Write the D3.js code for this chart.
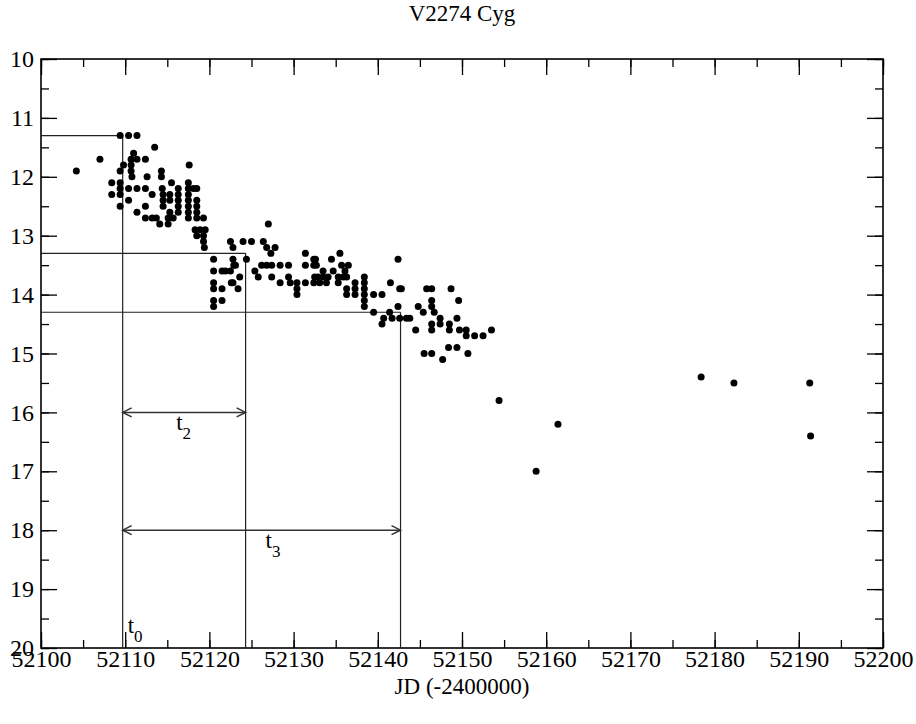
<!DOCTYPE html>
<html>
<head>
<meta charset="utf-8">
<script src="https://cdn.jsdelivr.net/npm/d3@7"></script>
<style>
  html, body { margin: 0; padding: 0; background: #fff; }
  svg text, svg tspan { font-family: "Liberation Serif", "Times New Roman", Times, "Nimbus Roman", "DejaVu Serif", serif !important; fill: #000; }
</style>
</head>
<body>
<svg id="chart" width="916" height="724"></svg>
<script>
// ---- data ----
const title = "V2274 Cyg";
const xLabel = "JD (-2400000)";
const xTicks = [52100, 52110, 52120, 52130, 52140, 52150, 52160, 52170, 52180, 52190, 52200];
const yTicks = [10, 11, 12, 13, 14, 15, 16, 17, 18, 19, 20];

const jd = [
  52109.4, 52110.4, 52111.4, 52113.5, 52111.0, 52107.0, 52110.7, 52111.4, 52112.4, 52109.8,
  52110.7, 52117.6, 52104.2, 52109.4, 52110.7, 52114.3, 52110.8, 52112.6, 52114.3, 52108.4,
  52109.4, 52115.5, 52117.5, 52109.4, 52110.4, 52111.4, 52112.4, 52114.4, 52116.3, 52117.5,
  52118.1, 52118.5, 52108.4, 52109.4, 52113.2, 52114.5, 52115.3, 52116.3, 52117.5, 52110.4,
  52114.5, 52115.3, 52116.3, 52117.5, 52118.5, 52109.4, 52112.4, 52114.5, 52116.3, 52117.5,
  52118.5, 52111.4, 52115.3, 52116.3, 52117.5, 52118.5, 52112.4, 52113.2, 52113.7, 52115.1,
  52115.7, 52117.5, 52118.5, 52119.3, 52114.1, 52115.1, 52118.3, 52118.9, 52119.5, 52118.5,
  52119.3, 52119.3, 52119.4,
  52127.0, 52122.5, 52124.0, 52125.0, 52126.4, 52122.8, 52126.8, 52127.8, 52127.3, 52131.4,
  52135.5, 52132.4, 52132.6, 52120.5, 52122.8, 52124.4, 52134.5, 52122.9, 52123.1, 52126.2,
  52126.8, 52127.4, 52128.4, 52129.4, 52131.4, 52132.4, 52132.7, 52135.7, 52136.5, 52120.5,
  52121.5, 52121.9, 52122.5, 52125.4, 52133.5, 52134.7, 52136.1, 52123.6, 52125.8, 52127.4,
  52129.4, 52132.5, 52132.9, 52133.5, 52134.1, 52135.3, 52135.9, 52136.3, 52120.5, 52122.6,
  52122.8, 52128.4, 52129.6, 52130.4, 52131.4, 52132.4, 52133.1, 52133.9, 52135.3, 52137.3,
  52120.5, 52121.5, 52123.4, 52130.4, 52136.3, 52137.3, 52130.4, 52136.3, 52137.3, 52120.5,
  52121.5, 52120.5,
  52138.4, 52138.4, 52138.4, 52138.4, 52138.4, 52138.4,
  52139.5, 52140.5, 52139.5, 52140.7, 52140.5,
  52142.4, 52141.5, 52142.6, 52142.8, 52145.8, 52146.4, 52148.7, 52146.4, 52149.6, 52142.4,
  52144.8, 52146.4, 52141.4, 52145.4, 52146.7, 52141.7, 52142.6, 52143.4, 52143.8, 52147.4,
  52149.4, 52146.4, 52147.4, 52148.5, 52144.5, 52146.4, 52148.5, 52149.7, 52150.5, 52153.5,
  52150.5, 52151.5, 52152.5, 52148.4, 52149.4, 52145.5, 52146.4, 52150.7, 52147.7,
  52154.4, 52158.8, 52161.4, 52178.4, 52182.3, 52191.3, 52191.4
];
const mag = [
  11.3, 11.3, 11.3, 11.5, 11.6, 11.7, 11.7, 11.7, 11.7, 11.8,
  11.8, 11.8, 11.9, 11.9, 11.9, 11.9, 12.0, 12.0, 12.0, 12.1,
  12.1, 12.1, 12.1, 12.2, 12.2, 12.2, 12.2, 12.2, 12.2, 12.2,
  12.2, 12.2, 12.3, 12.3, 12.3, 12.3, 12.3, 12.3, 12.3, 12.4,
  12.4, 12.4, 12.4, 12.4, 12.4, 12.5, 12.5, 12.5, 12.5, 12.5,
  12.5, 12.6, 12.6, 12.6, 12.6, 12.6, 12.7, 12.7, 12.7, 12.7,
  12.7, 12.7, 12.7, 12.7, 12.8, 12.8, 12.9, 12.9, 12.9, 13.0,
  13.0, 13.1, 13.2,
  12.8, 13.1, 13.1, 13.1, 13.1, 13.2, 13.2, 13.2, 13.3, 13.3,
  13.3, 13.4, 13.4, 13.4, 13.4, 13.4, 13.4, 13.5, 13.5, 13.5,
  13.5, 13.5, 13.5, 13.5, 13.5, 13.5, 13.5, 13.5, 13.5, 13.6,
  13.6, 13.6, 13.6, 13.6, 13.6, 13.6, 13.6, 13.7, 13.7, 13.7,
  13.7, 13.7, 13.7, 13.7, 13.7, 13.7, 13.7, 13.7, 13.8, 13.8,
  13.8, 13.8, 13.8, 13.8, 13.8, 13.8, 13.8, 13.8, 13.8, 13.8,
  13.9, 13.9, 13.9, 13.9, 13.9, 13.9, 14.0, 14.0, 14.0, 14.1,
  14.1, 14.2,
  13.7, 13.8, 13.9, 14.0, 14.1, 14.2,
  14.0, 14.0, 14.3, 14.4, 14.5,
  13.4, 13.8, 13.9, 13.9, 13.9, 13.9, 13.9, 14.1, 14.1, 14.2,
  14.2, 14.2, 14.3, 14.3, 14.3, 14.4, 14.4, 14.4, 14.4, 14.4,
  14.4, 14.5, 14.5, 14.5, 14.6, 14.6, 14.6, 14.6, 14.6, 14.6,
  14.7, 14.7, 14.7, 14.9, 14.9, 15.0, 15.0, 15.0, 15.1,
  15.8, 17.0, 16.2, 15.4, 15.5, 15.5, 16.4
];

// annotation values: decline times and reference magnitudes
const tNames = ["0", "2", "3"];
const tJD = [52109.7, 52124.3, 52142.7];
const tMag = [11.3, 13.3, 14.3];
const arrowMag = [16.0, 18.0];

// ---- layout ----
const FONT = "'Liberation Serif', 'Times New Roman', Times, 'Nimbus Roman', 'DejaVu Serif', serif";
const svg = d3.select("#chart");
const L = 41, R = 883, T = 59, B = 648;
const x = d3.scaleLinear().domain([52100, 52200]).range([L, R]);
const y = d3.scaleLinear().domain([10, 20]).range([T, B]);
const FS = 24;

function minor(lo, hi, step) { return d3.range(lo, hi + step / 2, step); }
const xMinor = minor(52100, 52200, 5);
const yMinor = minor(10, 20, 0.5);

function styleAxis(g) {
  g.attr("font-family", null).attr("font-size", null);
  g.select(".domain").remove();
  g.selectAll("line").attr("stroke", "#000").attr("stroke-width", 1.3);
  g.selectAll("text").attr("font-size", FS).style("font-family", FONT).attr("fill", "#000");
}

// bottom
svg.append("g").attr("transform", `translate(0,${B})`)
  .call(d3.axisBottom(x).tickValues(xMinor).tickSize(-8).tickFormat("")).call(styleAxis);
svg.append("g").attr("transform", `translate(0,${B})`)
  .call(d3.axisBottom(x).tickValues(xTicks).tickSize(-16).tickPadding(2).tickFormat(d3.format("d"))).call(styleAxis);
// top
svg.append("g").attr("transform", `translate(0,${T})`)
  .call(d3.axisTop(x).tickValues(xMinor).tickSize(-8).tickFormat("")).call(styleAxis);
svg.append("g").attr("transform", `translate(0,${T})`)
  .call(d3.axisTop(x).tickValues(xTicks).tickSize(-16).tickFormat("")).call(styleAxis);
// left
svg.append("g").attr("transform", `translate(${L},0)`)
  .call(d3.axisLeft(y).tickValues(yMinor).tickSize(-8).tickFormat("")).call(styleAxis);
svg.append("g").attr("transform", `translate(${L},0)`)
  .call(d3.axisLeft(y).tickValues(yTicks).tickSize(-16).tickPadding(7).tickFormat(d3.format("d"))).call(styleAxis);
// right
svg.append("g").attr("transform", `translate(${R},0)`)
  .call(d3.axisRight(y).tickValues(yMinor).tickSize(-8).tickFormat("")).call(styleAxis);
svg.append("g").attr("transform", `translate(${R},0)`)
  .call(d3.axisRight(y).tickValues(yTicks).tickSize(-16).tickFormat("")).call(styleAxis);

// frame
svg.append("rect").attr("x", L).attr("y", T).attr("width", R - L).attr("height", B - T)
  .attr("fill", "none").attr("stroke", "#000").attr("stroke-width", 1.6);

// reference lines
const ref = svg.append("g").attr("stroke", "#222").attr("stroke-width", 1.2).attr("fill", "none");
tJD.forEach((t, i) => {
  ref.append("line").attr("x1", x(52100)).attr("x2", x(t)).attr("y1", y(tMag[i])).attr("y2", y(tMag[i]));
  ref.append("line").attr("x1", x(t)).attr("x2", x(t)).attr("y1", y(tMag[i])).attr("y2", y(20));
});

// double arrows
const arr = svg.append("g").attr("stroke", "#333").attr("stroke-width", 1.5).attr("fill", "none");
arrowMag.forEach((m, i) => {
  const x1 = x(tJD[0]), x2 = x(tJD[i + 1]), yy = y(m);
  arr.append("line").attr("x1", x1).attr("x2", x2).attr("y1", yy).attr("y2", yy);
  arr.append("path").attr("d", `M${x1 + 9},${yy - 4.5}L${x1},${yy}L${x1 + 9},${yy + 4.5}`);
  arr.append("path").attr("d", `M${x2 - 9},${yy - 4.5}L${x2},${yy}L${x2 - 9},${yy + 4.5}`);
});

// t labels
function tLabel(px, py, sub) {
  const t = svg.append("text").attr("x", px).attr("y", py).attr("font-size", 23).style("font-family", FONT);
  t.append("tspan").text("t");
  t.append("tspan").attr("font-size", 17).attr("dy", 9).text(sub);
}
tLabel(x(tJD[0]) + 5, y(20) - 15, tNames[0]);
tLabel(x((tJD[0] + tJD[1]) / 2) - 8, y(arrowMag[0]) + 18, tNames[1]);
tLabel(x((tJD[0] + tJD[2]) / 2) + 4, y(arrowMag[1]) + 18, tNames[2]);

// points
svg.append("g").selectAll("circle").data(jd.map((d, i) => [d, mag[i]])).join("circle")
  .attr("cx", d => x(d[0])).attr("cy", d => y(d[1])).attr("r", 3.5).attr("fill", "#000");

// titles
svg.append("text").attr("x", (L + R) / 2).attr("y", 21).attr("text-anchor", "middle")
  .attr("font-size", 23).style("font-family", FONT).text(title);
svg.append("text").attr("x", (L + R) / 2).attr("y", 694).attr("text-anchor", "middle")
  .attr("font-size", 23).style("font-family", FONT).text(xLabel);
</script>
</body>
</html>
